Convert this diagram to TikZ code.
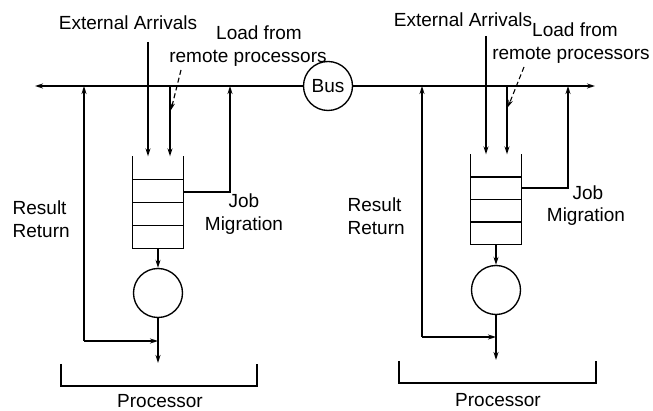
\documentclass[tikz,border=0pt]{standalone}
\usepackage{fontspec}
\setmainfont{Liberation Sans}
\usetikzlibrary{arrows.meta,calc}
\begin{document}
\begin{tikzpicture}[x=1pt,y=-1pt,
  line width=1.35pt,
  arr/.style={-{Stealth[length=8pt,width=5pt]}},
  lbl/.style={font=\fontsize{19}{23.5}\selectfont, inner sep=0pt},
  server/.style={circle,draw,minimum size=49pt,inner sep=0pt},
  queuebox/.style={draw=none,minimum width=50pt,inner sep=0pt},
  pointer/.style={dashed,dash pattern=on 5pt off 3pt,line width=1.1pt,-{Stealth[length=7pt,width=4.5pt]}},
  ]
\useasboundingbox (0,0) rectangle (653,411);

% Bus
\node[circle,draw,minimum size=49pt,inner sep=0pt,lbl] (bus) at (328,86) {Bus};
\coordinate (lend) at (35,86);
\coordinate (rend) at (595,86);
\draw[arr] (bus.west) -- (lend);
\draw[arr] (bus.east) -- (rend);

% ---------- Left processor ----------
\node[queuebox,minimum height=91pt] (q1) at (158,202.5) {};
\draw (q1.north west) -- (q1.south west) -- (q1.south east) -- (q1.north east);
\foreach \f in {0.25,0.5,0.75}
  \draw ($(q1.north west)!\f!(q1.south west)$) -- ($(q1.north east)!\f!(q1.south east)$);
\node[server] (s1) at (158,293) {};
\draw[arr] (q1.south) -- (s1.north);
\coordinate (o1) at (158,363);
\draw[arr] (s1.south) -- (o1);

\node[lbl] (ea1) at (128,23) {External Arrivals};
\coordinate (ea1s) at (148,42);
\draw[arr] (ea1s) -- (ea1s |- q1.north);

\node[lbl] (lf1) at (259,33) {Load from};
\node[lbl] (rp1) at (248,58) {remote processors};
\coordinate (ld1) at (170,86);
\draw[arr] (ld1) -- (ld1 |- q1.north);
\coordinate (pa1) at (181,70);
\coordinate (pb1) at (171,110);
\draw[pointer] (pa1) -- (pb1);

\coordinate (rr1) at (84,341);
\draw[arr] (rr1) -- (rr1 -| s1.south);
\draw[arr] (rr1) -- (rr1 |- bus.west);
\node[lbl,align=left,anchor=west] (res1) at (12,219) {Result\\Return};

\coordinate (jm1) at (230,192);
\draw[arr] (q1.east |- jm1) -- (jm1) -- (jm1 |- bus.west);
\node[lbl,align=center] (job1) at (244,214) {Job\\Migration};

\coordinate (b1a) at (61,364);
\coordinate (b1b) at (257,386);
\draw (b1a) -- (b1a |- b1b) -- (b1b) -- (b1b |- b1a);
\node[lbl] (p1) at (160,401) {Processor};

% ---------- Right processor ----------
\node[queuebox,minimum height=89pt] (q2) at (496,199.5) {};
\draw (q2.north west) -- (q2.south west) -- (q2.south east) -- (q2.north east);
\foreach \f in {0.25,0.5,0.75}
  \draw ($(q2.north west)!\f!(q2.south west)$) -- ($(q2.north east)!\f!(q2.south east)$);
\node[server] (s2) at (496,290) {};
\draw[arr] (q2.south) -- (s2.north);
\coordinate (o2) at (496,360);
\draw[arr] (s2.south) -- (o2);

\node[lbl] (ea2) at (463,20) {External Arrivals};
\coordinate (ea2s) at (486,36);
\draw[arr] (ea2s) -- (ea2s |- q2.north);

\node[lbl] (lf2) at (575,30) {Load from};
\node[lbl] (rp2) at (571,55) {remote processors};
\coordinate (ld2) at (507,86);
\draw[arr] (ld2) -- (ld2 |- q2.north);
\coordinate (pa2) at (524,67);
\coordinate (pb2) at (508,107);
\draw[pointer] (pa2) -- (pb2);

\coordinate (rr2) at (422,337);
\draw[arr] (rr2) -- (rr2 -| s2.south);
\draw[arr] (rr2) -- (rr2 |- bus.east);
\node[lbl,align=left,anchor=west] (res2) at (347,216) {Result\\Return};

\coordinate (jm2) at (568,188);
\draw[arr] (q2.east |- jm2) -- (jm2) -- (jm2 |- bus.east);
\node[lbl,align=left,anchor=west] (job2a) at (572,193) {Job};
\node[lbl] (job2b) at (586,217) {Migration};

\coordinate (b2a) at (399,361);
\coordinate (b2b) at (596,383);
\draw (b2a) -- (b2a |- b2b) -- (b2b) -- (b2b |- b2a);
\node[lbl] (p2) at (498,400) {Processor};
\end{tikzpicture}
\end{document}
